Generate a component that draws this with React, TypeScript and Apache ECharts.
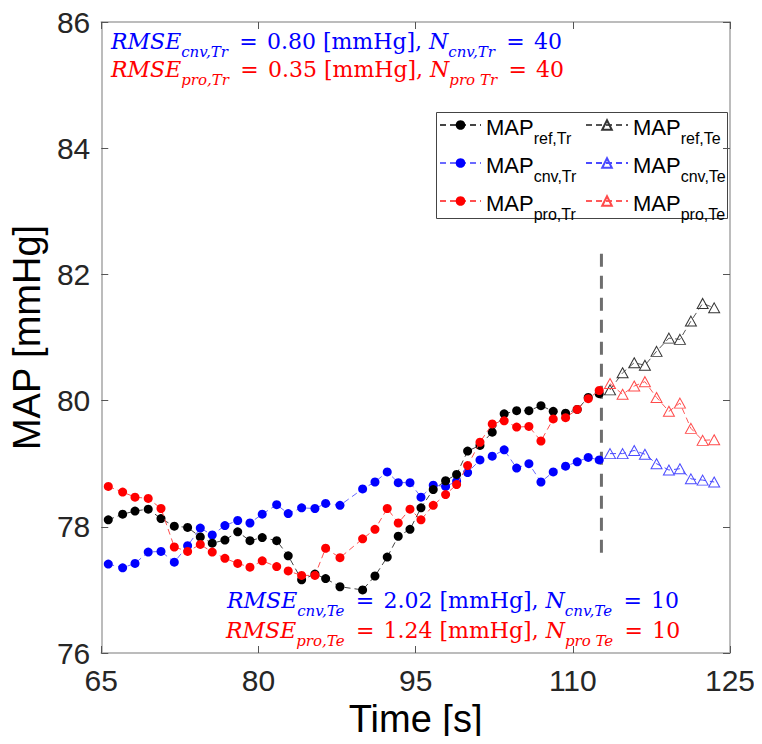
import React, { useEffect, useRef } from "react";
import * as echarts from "echarts";

// Training (Tr) sample times [s]
const timeTr = [65.67, 67.04, 68.22, 69.48, 70.70, 71.97, 73.24, 74.45, 75.59, 76.80,
  78.02, 79.19, 80.36, 81.74, 82.84, 84.12, 85.39, 86.41, 87.78, 89.94,
  91.12, 92.29, 93.34, 94.46, 95.51, 96.68, 97.86, 98.91, 99.96, 101.14,
  102.31, 103.45, 104.64, 105.81, 106.96, 108.13, 109.31, 110.42, 111.47, 112.52];
const refTr = [78.11, 78.20, 78.25, 78.28, 78.13, 78.01, 77.99, 77.84, 77.74, 77.79,
  77.92, 77.78, 77.83, 77.78, 77.54, 77.16, 77.25, 77.18, 77.05, 77.00,
  77.22, 77.52, 77.85, 77.96, 78.30, 78.59, 78.73, 78.83, 79.20, 79.29,
  79.50, 79.79, 79.84, 79.84, 79.92, 79.83, 79.80, 79.86, 80.05, 80.11];
const cnvTr = [77.41, 77.35, 77.42, 77.60, 77.61, 77.44, 77.70, 77.98, 77.87, 78.02,
  78.10, 78.06, 78.20, 78.35, 78.21, 78.30, 78.29, 78.37, 78.34, 78.60,
  78.71, 78.87, 78.70, 78.70, 78.47, 78.66, 78.64, 78.72, 78.86, 79.06,
  79.12, 79.22, 78.93, 79.00, 78.71, 78.87, 78.96, 79.03, 79.10, 79.06];
const proTr = [78.64, 78.55, 78.47, 78.45, 78.29, 77.68, 77.61, 77.72, 77.60, 77.50,
  77.42, 77.36, 77.46, 77.37, 77.30, 77.23, 77.23, 77.66, 77.51, 77.81,
  77.96, 78.29, 78.06, 78.28, 78.11, 78.34, 78.51, 78.67, 78.97, 79.34,
  79.63, 79.68, 79.58, 79.59, 79.36, 79.71, 79.73, 79.86, 80.03, 80.16];

// Test (Te) sample times [s]
const timeTe = [113.55, 114.75, 115.86, 116.88, 117.99, 119.17, 120.22, 121.27, 122.39, 123.49];
const refTe = [80.17, 80.44, 80.60, 80.56, 80.78, 80.99, 80.97, 81.26, 81.54, 81.47];
const cnvTe = [79.16, 79.16, 79.21, 79.15, 79.00, 78.90, 78.92, 78.76, 78.74, 78.71];
const proTe = [80.27, 80.10, 80.23, 80.30, 80.05, 79.83, 79.96, 79.56, 79.37, 79.38];

// Train/test split marker
const splitTime = 112.73;
const splitRange = [77.59, 82.38];

const xTicks = { min: 65, max: 125, step: 15 };
const yTicks = { min: 76, max: 86, step: 2 };

const pairs = (xs: number[], ys: number[]) => xs.map((x, i) => [x, ys[i]]);

const sans = "Arial, 'Liberation Sans', Helvetica, sans-serif";
const serif = "'DejaVu Serif', serif";
const eq = " \u2009=\u200A ";

function rmseText(color: string, sub: string, rmse: string, n: string, nsub: string) {
  return {
    text: `{v|RMSE}{s|${sub}}{n|${eq}${rmse} [mmHg], }{v|N}{s|${nsub}}{n|${eq}${n}}`,
    rich: {
      v: { fontFamily: serif, fontStyle: "italic", fontSize: 22, fill: color, lineHeight: 30, verticalAlign: "top" },
      s: { fontFamily: serif, fontStyle: "italic", fontSize: 15, fill: color, lineHeight: 18, padding: [14, 0, 0, 0], verticalAlign: "top" },
      n: { fontFamily: serif, fontSize: 22, fill: color, lineHeight: 30, verticalAlign: "top" },
    },
  };
}

export default function App() {
  const ref = useRef<HTMLDivElement>(null);
  useEffect(() => {
    if (!ref.current) return;
    const chart = echarts.init(ref.current, undefined, { renderer: "svg" });
    const legendRich = {
      m: { fontFamily: sans, fontSize: 22, color: "#000", lineHeight: 36, padding: [9, 0, 0, 0], verticalAlign: "top" },
      s: { fontFamily: sans, fontSize: 16, color: "#000", lineHeight: 36, padding: [23, 0, 0, 0], verticalAlign: "top" },
    };
    const legendCommon = {
      orient: "vertical",
      padding: 0,
      itemGap: -1,
      itemHeight: 12,
      formatter: (name: string) => `{m|MAP}{s|${name}}`,
      textStyle: { rich: legendRich },
    };
    const axisLine = { show: true, lineStyle: { color: "#a6a6a6", width: 1.5 } };
    const axisTick = { show: true, inside: true, length: 7, lineStyle: { color: "#555", width: 1 } };
    const tickLabel = { fontFamily: sans, fontSize: 30, color: "#262626" };
    const option = {
      animation: false,
      backgroundColor: "#fff",
      grid: { left: 101, right: 32, top: 22, bottom: 91, containLabel: false },
      xAxis: [
        {
          type: "value", min: xTicks.min, max: xTicks.max, interval: xTicks.step,
          name: "Time [s]", nameLocation: "middle", nameGap: 42,
          nameTextStyle: { fontFamily: sans, fontSize: 38, color: "#000" },
          axisLine, axisTick, splitLine: { show: false },
          axisLabel: { ...tickLabel, margin: 12 },
        },
        {
          type: "value", min: xTicks.min, max: xTicks.max, interval: xTicks.step, position: "top",
          axisLine, axisTick, splitLine: { show: false }, axisLabel: { show: false },
        },
      ],
      yAxis: [
        {
          type: "value", min: yTicks.min, max: yTicks.max, interval: yTicks.step,
          name: "MAP [mmHg]", nameLocation: "middle", nameGap: 48,
          nameTextStyle: { fontFamily: sans, fontSize: 38, color: "#000" },
          axisLine, axisTick, splitLine: { show: false },
          axisLabel: { ...tickLabel, margin: 11 },
        },
        {
          type: "value", min: yTicks.min, max: yTicks.max, interval: yTicks.step, position: "right",
          axisLine, axisTick, splitLine: { show: false }, axisLabel: { show: false },
        },
      ],
      legend: [
        { ...legendCommon, left: 439, top: 107, itemWidth: 41, data: ["ref,Tr", "cnv,Tr", "pro,Tr"] },
        { ...legendCommon, left: 585, top: 107, itemWidth: 42, data: ["ref,Te", "cnv,Te", "pro,Te"] },
      ],
      series: [
        {
          name: "split", type: "line", data: [[splitTime, splitRange[0]], [splitTime, splitRange[1]]],
          symbol: "none", lineStyle: { color: "#6e6e6e", width: 3, type: [13, 9] }, z: 1,
        },
        {
          name: "ref,Tr", type: "line", data: pairs(timeTr, refTr), symbol: "circle", symbolSize: 9,
          itemStyle: { color: "#000" }, lineStyle: { color: "#444", width: 1, type: [6, 4] }, z: 4,
        },
        {
          name: "cnv,Tr", type: "line", data: pairs(timeTr, cnvTr), symbol: "circle", symbolSize: 9,
          itemStyle: { color: "#0000ff" }, lineStyle: { color: "#6a6aff", width: 1, type: [6, 4] }, z: 3,
        },
        {
          name: "pro,Tr", type: "line", data: pairs(timeTr, proTr), symbol: "circle", symbolSize: 9,
          itemStyle: { color: "#ff0000" }, lineStyle: { color: "#ff5050", width: 1, type: [6, 4] }, z: 5,
        },
        {
          name: "ref,Te", type: "line", data: pairs(timeTe, refTe), symbol: "triangle", symbolSize: [11, 10],
          itemStyle: { color: "rgba(255,255,255,0)", borderColor: "#333", borderWidth: 1 },
          lineStyle: { color: "#555", width: 1, type: [6, 4] }, z: 4,
        },
        {
          name: "cnv,Te", type: "line", data: pairs(timeTe, cnvTe), symbol: "triangle", symbolSize: [11, 10],
          itemStyle: { color: "rgba(255,255,255,0)", borderColor: "#4a4aff", borderWidth: 1 },
          lineStyle: { color: "#4a4aff", width: 1, type: [6, 4] }, z: 3,
        },
        {
          name: "pro,Te", type: "line", data: pairs(timeTe, proTe), symbol: "triangle", symbolSize: [11, 10],
          itemStyle: { color: "rgba(255,255,255,0)", borderColor: "#ff4a4a", borderWidth: 1 },
          lineStyle: { color: "#ff5a5a", width: 1, type: [6, 4] }, z: 5,
        },
      ],
      graphic: [
        {
          type: "rect", left: 436, top: 112, z: 0,
          shape: { width: 291, height: 106 },
          style: { fill: "#fff", stroke: "#444", lineWidth: 1 },
        },
        { type: "text", left: 111, top: 30, z: 10, style: rmseText("#0000ff", "cnv,Tr", "0.80", "40", "cnv,Tr") },
        { type: "text", left: 111, top: 58, z: 10, style: rmseText("#ff0000", "pro,Tr", "0.35", "40", "pro Tr") },
        { type: "text", left: 227, top: 589, z: 10, style: rmseText("#0000ff", "cnv,Te", "2.02", "10", "cnv,Te") },
        { type: "text", left: 226, top: 619, z: 10, style: rmseText("#ff0000", "pro,Te", "1.24", "10", "pro Te") },
      ],
    };
    chart.setOption(option as any);
    return () => chart.dispose();
  }, []);
  return <div ref={ref} style={{ width: 762, height: 744, margin: -8 }} />;
}
